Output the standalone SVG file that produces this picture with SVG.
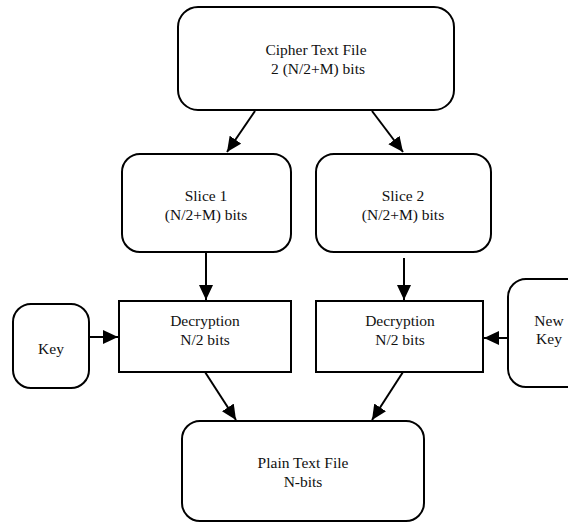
<svg xmlns="http://www.w3.org/2000/svg" width="568" height="523" viewBox="0 0 568 523">
<defs>
<style>
.box{fill:#fff;stroke:#000;stroke-width:2}
.t{font-family:"Liberation Serif","Times New Roman",serif;font-size:15.5px;fill:#111;text-anchor:middle}
.c{stroke:#000;stroke-width:2;fill:none;marker-end:url(#ah)}
</style>
<marker id="ah" markerUnits="userSpaceOnUse" markerWidth="16" markerHeight="15" refX="15" refY="7" orient="auto">
<path d="M0,0 L15,7 L0,14 z" fill="#000"/>
</marker>
</defs>
<rect width="568" height="523" fill="#fff"/>
<g id="connectors">
<line class="c" x1="255" y1="111" x2="227" y2="152"/>
<line class="c" x1="372" y1="111" x2="403" y2="152"/>
<line class="c" x1="206" y1="252" x2="206" y2="300"/>
<line class="c" x1="404" y1="258" x2="404" y2="300"/>
<line class="c" x1="89" y1="337" x2="118" y2="337"/>
<line class="c" x1="508" y1="338" x2="484" y2="338"/>
<line class="c" x1="205" y1="372" x2="236" y2="420"/>
<line class="c" x1="403" y1="372" x2="372" y2="420"/>
</g>
<g id="cipher">
<rect class="box" x="178" y="7" width="276" height="103" rx="20"/>
<text class="t" x="316" y="55">Cipher Text File</text>
<text class="t" x="318" y="74">2 (N/2+M) bits</text>
</g>
<g id="slice1">
<rect class="box" x="122" y="154" width="169" height="98" rx="18"/>
<text class="t" x="206" y="201">Slice 1</text>
<text class="t" x="206" y="220">(N/2+M) bits</text>
</g>
<g id="slice2">
<rect class="box" x="316" y="154" width="175" height="98" rx="18"/>
<text class="t" x="403" y="201">Slice 2</text>
<text class="t" x="403" y="220">(N/2+M) bits</text>
</g>
<g id="dec1">
<rect class="box" x="119" y="301" width="172" height="71"/>
<text class="t" x="205" y="326">Decryption</text>
<text class="t" x="205" y="345">N/2 bits</text>
</g>
<g id="dec2">
<rect class="box" x="316" y="301" width="167" height="71"/>
<text class="t" x="400" y="326">Decryption</text>
<text class="t" x="400" y="345">N/2 bits</text>
</g>
<g id="key">
<rect class="box" x="13" y="304" width="76" height="84" rx="18"/>
<text class="t" x="51" y="354">Key</text>
</g>
<g id="newkey">
<rect class="box" x="508" y="279" width="100" height="108" rx="18"/>
<text class="t" x="549" y="326">New</text>
<text class="t" x="549" y="344">Key</text>
</g>
<g id="plain">
<rect class="box" x="182" y="421" width="242" height="100" rx="18"/>
<text class="t" x="303" y="468">Plain Text File</text>
<text class="t" x="303" y="487">N-bits</text>
</g>
</svg>
